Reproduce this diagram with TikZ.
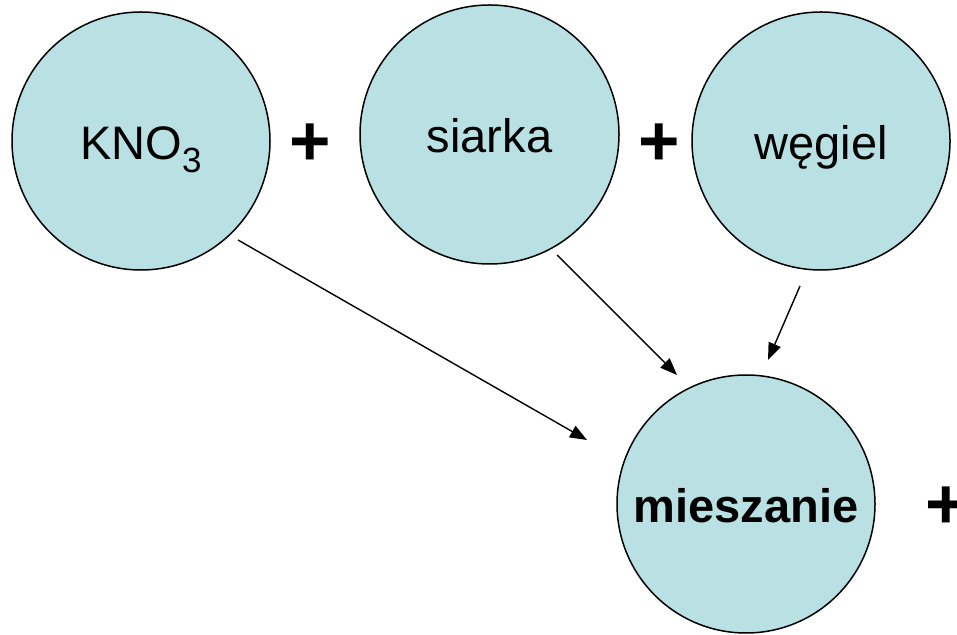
\documentclass[tikz,border=0pt]{standalone}
\usepackage{fontspec}
\setmainfont{Liberation Sans}
\usetikzlibrary{calc,arrows.meta}
\definecolor{ballfill}{HTML}{B9E0E3}
\tikzset{
  ball/.style={circle, draw=black, line width=1.5pt, fill=ballfill,
    minimum size=258pt, inner sep=0pt,
    font=\fontsize{47}{56}\selectfont, text height=37pt, text depth=0pt},
  plussign/.style={font=\fontsize{71}{80}\selectfont\bfseries, inner sep=0pt},
  feed/.style={line width=1.4pt, -{Triangle[length=17pt,width=13pt]}}
}
\begin{document}
\begin{tikzpicture}[x=1pt,y=1pt]
  \useasboundingbox (0,0) rectangle (957,634);
  % ingredients
  \node[ball] (kno) at (141,493) {KNO\raisebox{-13pt}{\fontsize{35}{40}\selectfont 3}};
  \node[ball, minimum size=259pt] (sia) at (489.5,499.5) {siarka};
  \node[ball] (weg) at (821,493) {węgiel};
  % process
  \node[ball] (mie) at (746,130) {\bfseries mieszanie};
  % plus signs
  \node[plussign] (p1) at (310.5,489) {+};
  \node[plussign] (p2) at (659,489) {+};
  \node[plussign] (p3) at (946,126.5) {+};
  % arrow end points
  \coordinate (a1s) at ($(kno.center)+(97,-99)$);
  \coordinate (a1e) at ($(mie.center)+(-159,64)$);
  \coordinate (a2s) at ($(sia.center)+(67.5,-120.5)$);
  \coordinate (a2e) at ($(mie.center)+(-69,129)$);
  \coordinate (a3s) at ($(weg.center)+(-21,-145)$);
  \coordinate (a3e) at ($(mie.center)+(22,144)$);
  \draw[feed] (a1s) -- (a1e);
  \draw[feed] (a2s) -- (a2e);
  \draw[feed] (a3s) -- (a3e);
\end{tikzpicture}
\end{document}
